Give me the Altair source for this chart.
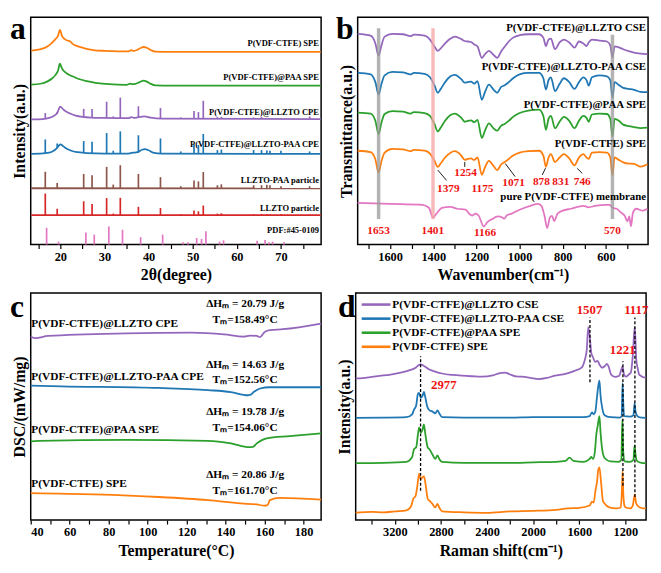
import altair as alt
import pandas as pd

FONT = "Liberation Serif"
PW, PH = 294, 230

ORANGE, GREEN, PURPLE, BLUE = "#ff7f0e", "#2ca02c", "#9467bd", "#1f77b4"
BROWN, RED, PINK = "#8c564b", "#d62728", "#e377c2"
LABRED = "#ee1111"

# ---------------- panel a : XRD ----------------
A_ORANGE_X = [13.4, 15.0, 16.6, 17.6, 18.8, 19.5, 19.9, 20.4, 21.0, 21.6, 22.2, 22.8, 24.0, 25.5, 27.5, 30.0, 33.0, 35.5, 36.1, 36.6, 37.5, 38.3, 38.9, 39.6, 40.5, 41.5, 45.0, 79.0]
A_ORANGE_Y = [200.5, 201.5, 203.7, 206.5, 212.0, 216.0, 222.0, 215.5, 212.5, 211.0, 210.3, 207.5, 205.0, 203.0, 201.2, 200.3, 199.8, 199.8, 201.0, 200.2, 201.5, 203.5, 204.3, 203.5, 201.2, 199.6, 199.3, 199.3]
A_GREEN_X = [13.4, 15.5, 17.0, 18.2, 19.0, 19.5, 19.9, 20.3, 20.8, 21.5, 22.5, 24.0, 26.0, 28.0, 31.0, 35.0, 35.8, 36.3, 37.0, 38.0, 38.9, 39.6, 40.5, 41.5, 45.0, 79.0]
A_GREEN_Y = [165.3, 166.3, 168.5, 172.0, 176.0, 180.0, 187.0, 183.0, 179.5, 177.0, 174.5, 171.5, 169.0, 167.3, 165.8, 165.2, 166.5, 166.0, 166.2, 168.0, 169.5, 168.5, 166.2, 164.6, 164.3, 164.3]
A_PURPLE_X = [13.4, 16.0, 17.5, 18.5, 19.3, 20.0, 20.6, 21.3, 22.2, 23.5, 25.0, 27.0, 30.0, 33.0, 35.5, 36.1, 36.7, 38.0, 39.0, 40.5, 43.0, 79.0]
A_PURPLE_Y = [129.5, 129.8, 131.0, 133.0, 136.0, 142.7, 140.0, 137.5, 135.5, 133.3, 132.0, 131.3, 131.0, 130.8, 130.7, 131.8, 131.0, 132.0, 132.5, 131.2, 130.3, 129.8]
A_BLUE_X = [13.4, 15.5, 17.5, 18.5, 19.3, 20.0, 20.7, 21.5, 22.5, 24.0, 26.0, 30.0, 35.0, 36.5, 37.5, 38.5, 39.2, 40.0, 41.0, 43.0, 79.0]
A_BLUE_Y = [93.8, 94.0, 95.0, 97.0, 100.0, 103.7, 101.5, 99.0, 97.0, 95.5, 94.5, 94.0, 94.0, 95.0, 95.5, 98.0, 98.7, 97.5, 95.0, 94.0, 93.7]
A_BROWN_X = [13.4, 79.0]
A_BROWN_Y = [58.2, 58.0]
A_RED_X = [13.4, 79.0]
A_RED_Y = [30.5, 30.3]

A_PEAKS = [16.6, 19.3, 25.3, 27.2, 30.5, 32.0, 33.6, 37.7, 42.7, 47.3, 50.3, 51.3, 52.4, 55.6, 56.5, 63.8, 65.6, 66.8, 67.5, 70.0, 76.5]
A_RED_TOP = [52.7, 37.0, 44.7, 42.0, 48.0, 32.0, 48.3, 39.0, 37.7, 31.3, 35.3, 34.3, 40.3, 32.0, 32.3, 31.3, 31.7, 31.3, 31.3, 31.3, 31.0]
A_RED_BASE = 30.4
A_BROWN_TOP = [75.3, 63.7, 73.0, 71.7, 80.3, 62.0, 82.0, 73.0, 69.7, 60.3, 66.3, 65.3, 75.0, 61.3, 62.3, 61.3, 61.3, 61.7, 61.3, 60.3, 60.3]
A_BROWN_BASE = 58.1
A_BLUE_TOP = [108.7, 104.5, 107.0, 106.3, 115.3, 97.0, 117.0, 113.0, 109.7, 96.3, 103.7, 103.0, 114.3, 97.7, 98.3, 97.7, 97.7, 97.3, 97.0, 97.0, 96.3]
A_BLUE_BASE = [94.6, 100.0, 94.8, 94.4, 94.0, 94.0, 94.0, 95.5, 93.9, 93.8, 93.8, 93.8, 93.8, 93.8, 93.8, 93.8, 93.8, 93.8, 93.8, 93.8, 93.7]
A_PURPLE_TOP = [136.0, 137.0, 140.3, 140.3, 147.7, 132.5, 152.0, 143.0, 141.3, 131.5, 138.0, 137.0, 148.7, 131.8, 132.0, 131.5, 132.0, 131.0, 130.8, 130.8, 132.5]
A_PURPLE_BASE = [129.8, 135.0, 132.0, 131.3, 131.0, 130.9, 130.8, 132.0, 130.3, 130.0, 130.0, 130.0, 130.0, 130.0, 130.0, 130.0, 130.0, 130.0, 130.0, 130.0, 129.9]
A_PDF_POS = [16.9, 19.6, 25.8, 27.7, 31.0, 34.1, 38.2, 43.2, 47.8, 48.9, 50.9, 52.0, 53.0, 56.1, 57.0, 64.6, 66.4, 67.3, 68.1, 70.7]
A_PDF_H = [17.3, 3.0, 12.3, 10.3, 18.7, 15.3, 7.7, 10.3, 2.3, 2.3, 6.7, 5.7, 13.7, 3.0, 4.3, 4.0, 4.7, 2.3, 3.0, 2.3]
A_LABELS = ["P(VDF-CTFE) SPE", "P(VDF-CTFE)@PAA SPE", "P(VDF-CTFE)@LLZTO CPE",
            "P(VDF-CTFE)@LLZTO-PAA CPE", "LLZTO-PAA particle", "LLZTO particle", "PDF:#45-0109"]
A_LABEL_Y = [208, 173.3, 137, 104, 67, 37.7, 15.3]

# ---------------- panel b : FTIR ----------------
B_W = [1750, 1690, 1668, 1653, 1640, 1625, 1590, 1540, 1505, 1490, 1440, 1415, 1395, 1379, 1365, 1345, 1320, 1300, 1270, 1254,
       1240, 1225, 1210, 1195, 1175, 1160, 1142, 1120, 1104, 1085, 1071, 1050, 1030, 1000, 960, 910, 890, 878, 866, 855,
       836, 815, 795, 770, 746, 725, 705, 690, 680, 665, 630, 595, 580, 570, 560, 540, 520, 495, 470, 440, 408]
B_ORANGE = [97, 95.5, 88, 74.3, 86, 95, 99, 98.5, 96.5, 98, 97, 94, 87, 80.3, 84, 90, 95, 96.5, 92, 87.5,
            88.5, 89, 87.5, 90, 72, 80, 86.5, 81, 77, 83, 85, 88.5, 92, 95, 96.5, 97, 92, 80.3, 90, 93.5,
            85.3, 90, 93.5, 89, 82, 90, 93.5, 90, 88.5, 95, 95.5, 95, 90, 72, 90, 87.5, 85, 83.7, 83.5, 80.5, 83]
B_GREEN = [136.5, 135.5, 128, 114.3, 126, 135, 138, 137.5, 135.5, 137, 136, 133, 125, 117, 121, 128, 134, 135.5, 131, 127,
           128, 128.5, 126.5, 129, 110.3, 118, 125.3, 120, 117.7, 123, 124.5, 128, 132, 136, 138.5, 139.5, 133, 118.7, 130, 133,
           120.3, 127, 132, 128, 120.3, 128, 133, 131, 127, 134.5, 135.5, 135, 130, 112, 130, 128, 124, 122.5, 121.5, 120.5, 121]
B_BLUE = [177.5, 176, 168, 155.3, 166, 175, 178.5, 178, 176, 177.5, 176.5, 173, 165, 157, 161, 168, 174, 175.5, 171, 167.5,
          168, 168.5, 166.5, 169, 149.7, 158, 165.3, 160, 157, 163, 164.5, 168, 172, 176, 177.5, 177.5, 172, 160.3, 170, 173,
          158.7, 166, 172, 168, 161, 168, 173, 170, 164.3, 173, 175, 174, 170, 152, 168, 165, 162, 161, 160, 158, 157.7]
B_PURPLE = [218, 216, 208, 195.3, 206, 215, 218, 217.5, 215.5, 217, 216, 212, 205, 200.3, 203, 208, 213, 215, 212.5, 210.5,
            210, 209.5, 207, 205, 193, 197, 200.3, 196, 193, 200, 204, 210, 214, 216.5, 217.5, 217.5, 214, 205.3, 212, 213,
            202, 209, 212, 209, 203.7, 210, 208, 205.3, 209, 212, 211, 210, 206, 193.7, 205, 204, 202, 200, 198.5, 197.5, 197]
B_PINK_W = [1750, 1600, 1450, 1420, 1401, 1385, 1360, 1320, 1290, 1250, 1234, 1220, 1205, 1190, 1166, 1150, 1130, 1100, 1080, 1071,
            1060, 1036, 1000, 950, 915, 899, 885, 872, 860, 850, 840, 824, 800, 763, 703, 680, 650, 600, 582, 570,
            550, 530, 514, 500, 492, 484, 475, 460, 430, 408]
B_PINK = [43, 42, 41, 38, 27.7, 32, 38, 39, 37, 36, 32, 30, 32, 30, 18.7, 23, 26, 29, 28, 26.7,
          30, 32, 36, 40, 42, 40, 30, 17, 28, 29.7, 24.3, 32, 35, 37, 40, 38.5, 40, 41, 41, 38,
          37, 33, 30, 24, 29, 19, 33, 37, 35, 37]
B_LABELS = ["P(VDF-CTFE)@LLZTO CSE", "P(VDF-CTFE)@LLZTO-PAA CSE", "P(VDF-CTFE)@PAA SPE",
            "P(VDF-CTFE) SPE", "pure P(VDF-CTFE) membrane"]
B_LABEL_Y = [223.7, 183.7, 144.3, 103.7, 48.7]
B_BANDS = [1653, 1401, 570]
B_BAND_TOP = [223.7, 223.7, 217.0]
B_BAND_BOT = [26.3, 26.3, 26.3]
B_PEAK_TXT = ["1653", "1401", "1166", "570", "1379", "1175", "1254", "1071", "878", "831", "746"]
B_PEAK_TXT_W = [1653, 1402, 1160, 570, 1330, 1172, 1250, 1028, 899, 809, 710]
B_PEAK_TXT_V = [14.3, 14.3, 12.0, 14.3, 57.0, 57.0, 73.7, 63.7, 64.3, 64.3, 64.3]
B_PTR_W1 = [1379, 1254, 1066, 880, 733]
B_PTR_W2 = [1338, 1254, 1021, 895, 710]
B_PTR_V1 = [77.0, 85.3, 83.7, 79.0, 78.7]
B_PTR_V2 = [66.3, 80.3, 70.3, 72.0, 73.7]

# ---------------- panel c : DSC ----------------
C_PURPLE_T = [40, 42.2, 48.9, 89, 122.5, 139.2, 149.3, 152.6, 156, 157.6, 160.2, 162.7, 169.4, 189]
C_PURPLE_V = [190.7, 189, 191.3, 194, 194.7, 193, 190.7, 191.7, 191.3, 190, 195.7, 197.3, 198.3, 204.2]
C_BLUE_T = [40, 55.7, 105.9, 131, 142.7, 151.4, 152.6, 154.4, 157.7, 162.7, 189]
C_BLUE_V = [139.7, 139, 137.3, 135, 133, 129.7, 130, 133, 136.7, 138, 138]
C_GREEN_T = [40, 44, 89, 131, 142.7, 152.1, 154, 156, 161, 172.8, 189]
C_GREEN_V = [81.7, 82.3, 83.3, 82.3, 79.7, 75.7, 76.0, 79.7, 85, 87.3, 90.1]
C_ORANGE_T = [40, 72.4, 105.9, 131, 147.7, 156, 159.7, 161.5, 162.7, 167.7, 189]
C_ORANGE_V = [28, 26.7, 24, 20.7, 17.3, 16.3, 15, 15.5, 20.7, 23, 21.2]
C_LABELS = ["P(VDF-CTFE)@LLZTO CPE", "P(VDF-CTFE)@LLZTO-PAA CPE", "P(VDF-CTFE)@PAA SPE", "P(VDF-CTFE) SPE"]
C_LABEL_Y = [204, 148.3, 93.3, 37.3]
C_DH = ["ΔHₘ = 20.79 J/g", "ΔHₘ = 14.63 J/g", "ΔHₘ = 19.78 J/g", "ΔHₘ = 20.86 J/g"]
C_TM = ["Tₘ=158.49°C", "Tₘ=152.56°C", "Tₘ=154.06°C", "Tₘ=161.70°C"]
C_DH_Y = [224, 160.7, 112.3, 47.3]
C_TM_Y = [208.3, 145, 95.7, 30.7]

# ---------------- panel d : Raman ----------------
D_PURPLE_W = [3540, 3480, 3400, 3300, 3249, 3150, 3077, 3020, 2995, 2977, 2950, 2905, 2850, 2790, 2700, 2618, 2500, 2445, 2350, 2290,
              2244, 2200, 2150, 2100, 2000, 1956, 1880, 1813, 1720, 1641, 1580, 1555, 1535, 1522, 1510, 1495, 1482, 1460, 1440, 1425,
              1400, 1375, 1360, 1345, 1324, 1290, 1253, 1235, 1224, 1212, 1195, 1170, 1152, 1135, 1119, 1112, 1105, 1094, 1080, 1066,
              1040, 1022]
D_PURPLE_V = [146, 146.3, 147.5, 149, 149.7, 152, 154.3, 157, 159.5, 160.3, 159, 155.3, 153, 151, 149.5, 148.7, 148, 147.7, 149, 151.5,
              152, 150, 148, 147.7, 146, 145.3, 146.5, 148.7, 150.5, 153.7, 157, 163.7, 175, 198.7, 190, 172, 168, 163, 164, 160.3,
              157, 159, 161, 158, 150, 147.5, 148.7, 155, 158, 150, 147.7, 150, 152, 170, 198.7, 185, 165, 157, 150, 148.7,
              147, 147]
D_BLUE_W = [3540, 3300, 3100, 3050, 3034, 3015, 3000, 2990, 2975, 2960, 2948, 2935, 2919, 2900, 2876, 2850, 2830, 2815, 2790, 2600,
            2200, 2000, 1800, 1650, 1560, 1510, 1490, 1475, 1460, 1445, 1435, 1425, 1415, 1400, 1380, 1330, 1250, 1232, 1224, 1218,
            1210, 1160, 1130, 1120, 1112, 1095, 1060, 1022]
D_BLUE_V = [105.3, 105.5, 106, 109, 113.7, 118, 130, 131, 126, 128, 132, 126, 117, 113, 112, 110, 113, 110, 106, 105.5,
            105.5, 106, 106, 106, 106, 107, 111, 109, 112, 128, 138, 143.7, 128, 115, 108, 106, 105.5, 107, 141, 120,
            107, 106.5, 108, 120.3, 112, 107, 105.5, 105.3]
D_GREEN_W = [3540, 3300, 3100, 3050, 3034, 3015, 3000, 2990, 2975, 2960, 2948, 2935, 2915, 2900, 2876, 2850, 2830, 2815, 2790, 2600,
             2200, 2000, 1800, 1720, 1684, 1650, 1560, 1510, 1497, 1480, 1465, 1450, 1440, 1425, 1415, 1400, 1380, 1330, 1260, 1235,
             1226, 1218, 1205, 1160, 1130, 1120, 1110, 1095, 1060, 1022]
D_GREEN_V = [58.7, 59, 60, 65, 73, 75, 88, 95.3, 90, 93, 98.7, 88, 75, 73, 68, 63, 66.7, 63, 60, 59,
             59, 59.5, 60, 61, 64.3, 61, 60, 63, 65, 63, 70, 90, 97, 107, 90, 72, 64, 60.5, 60, 62,
             103.7, 70, 60.5, 60, 62, 77, 66, 60.5, 59, 58.7]
D_ORANGE_W = [3540, 3400, 3300, 3200, 3100, 3060, 3040, 3020, 3005, 2990, 2975, 2960, 2948, 2935, 2915, 2900, 2876, 2850, 2830, 2815,
              2790, 2600, 2400, 2200, 2000, 1800, 1700, 1600, 1510, 1490, 1475, 1460, 1445, 1435, 1425, 1410, 1395, 1380, 1340, 1280,
              1240, 1230, 1224, 1217, 1205, 1190, 1160, 1135, 1125, 1117, 1108, 1095, 1070, 1040, 1022]
D_ORANGE_V = [7.7, 8.5, 8, 9, 10, 14, 22, 25, 35, 47.7, 42, 44.3, 45, 38, 22, 20, 17, 13, 16.7, 13,
              9, 8, 7.5, 9, 9.5, 10.5, 12, 12.5, 15, 19, 18, 30, 40, 52, 54.3, 38, 20, 17, 13, 12,
              13, 30, 50.3, 25, 14, 12.7, 12, 15, 23, 26.3, 18, 15, 13, 12, 12]
D_NAMES = ["P(VDF-CTFE)@LLZTO CSE", "P(VDF-CTFE)@LLZTO-PAA CSE", "P(VDF-CTFE)@PAA SPE", "P(VDF-CTFE) SPE"]
D_MARK_W = [2977, 1507, 1221, 1117]
D_MARK_TOP = [168.7, 208.7, 163.7, 208.7]
D_MARK_BOT = [30.3, 142.0, 35.3, 23.7]
D_TXT = ["2977", "1507", "1221", "1117"]
D_TXT_W = [2775, 1511, 1223, 1105]
D_TXT_V = [138.7, 216.3, 175.3, 216.3]


def series_df(items):
    rows = []
    for name, xs, ys in items:
        for x, y in zip(xs, ys):
            rows.append({"s": name, "x": x, "y": y})
    return pd.DataFrame(rows)


def make_panel(letter, xscale, yscale, xaxis, ytitle, names, colors, line_items, extra_layers_fn, lx, ly):
    X = alt.X("x:Q", scale=xscale, axis=xaxis)
    Y = alt.Y("y:Q", scale=yscale,
              axis=alt.Axis(title=ytitle, labels=False, ticks=False, titlePadding=3))
    C = alt.Color("s:N", scale=alt.Scale(domain=names, range=colors), legend=None)
    lines = alt.Chart(series_df(line_items)).mark_line(strokeWidth=1.8, interpolate="monotone").encode(x=X, y=Y, color=C)
    layers = [lines] + extra_layers_fn(X, Y, C)
    lab = alt.Chart(pd.DataFrame({"t": [letter]})).mark_text(
        font=FONT, fontWeight="bold", fontSize=32, align="left", baseline="alphabetic", color="black"
    ).encode(x=alt.value(lx), y=alt.value(ly), text="t:N")
    layers.append(lab)
    return alt.layer(*layers).properties(width=PW, height=PH)


def text_layer(df, X, Y, size, color="black", align="left"):
    return alt.Chart(df).mark_text(font=FONT, fontWeight="bold", fontSize=size, color=color,
                                   align=align, baseline="middle").encode(x=X, y=Y, text="t:N")


# ---- panel a
a_names = ["o", "g", "p", "b", "br", "r", "pdf"]
a_cols = [ORANGE, GREEN, PURPLE, BLUE, BROWN, RED, PINK]


def a_extra(X, Y, C):
    rows = []
    for name, tops, bases in [("r", A_RED_TOP, [A_RED_BASE] * len(A_PEAKS)),
                              ("br", A_BROWN_TOP, [A_BROWN_BASE] * len(A_PEAKS)),
                              ("b", A_BLUE_TOP, A_BLUE_BASE),
                              ("p", A_PURPLE_TOP, A_PURPLE_BASE)]:
        for x, t, b in zip(A_PEAKS, tops, bases):
            rows.append({"s": name, "x": x, "y": b, "y2": t})
    for x, h in zip(A_PDF_POS, A_PDF_H):
        rows.append({"s": "pdf", "x": x, "y": 0.0, "y2": h})
    peaks = alt.Chart(pd.DataFrame(rows)).mark_rule(strokeWidth=1.7).encode(x=X, y=Y, y2="y2:Q", color=C)
    tdf = pd.DataFrame({"t": A_LABELS, "x": [78.6] * len(A_LABELS), "y": A_LABEL_Y})
    return [peaks, text_layer(tdf, X, Y, 8.6, align="right")]


panel_a = make_panel(
    "a",
    alt.Scale(domain=[13.3, 79.1], nice=False, zero=False),
    alt.Scale(domain=[0, 235], nice=False, zero=False),
    alt.Axis(title="2θ(degree)", values=list(range(15, 80, 5)), format="d",
             labelExpr="datum.value % 10 == 0 ? datum.label : ''", tickSize=4, labelPadding=2, titlePadding=4),
    "Intensity(a.u.)", a_names, a_cols,
    [("o", A_ORANGE_X, A_ORANGE_Y), ("g", A_GREEN_X, A_GREEN_Y), ("p", A_PURPLE_X, A_PURPLE_Y),
     ("b", A_BLUE_X, A_BLUE_Y), ("br", A_BROWN_X, A_BROWN_Y), ("r", A_RED_X, A_RED_Y)],
    a_extra, -21, 22)

# ---- panel b
b_names = ["o", "g", "b", "p", "pk"]
b_cols = [ORANGE, GREEN, BLUE, PURPLE, PINK]


def b_extra(X, Y, C):
    bands = pd.DataFrame({"x": B_BANDS, "y": B_BAND_BOT, "y2": B_BAND_TOP, "c": ["#9a9a9a", "#f4a3a3", "#9a9a9a"]})
    band = alt.Chart(bands).mark_rule(strokeWidth=3.5, opacity=0.75).encode(
        x=X, y=Y, y2="y2:Q", color=alt.Color("c:N", scale=None))
    ptr = pd.DataFrame({"x": B_PTR_W1, "x2": B_PTR_W2, "y": B_PTR_V1, "y2": B_PTR_V2})
    ptrs = alt.Chart(ptr).mark_rule(strokeWidth=0.9, color="black").encode(x=X, x2="x2:Q", y=Y, y2="y2:Q")
    tdf = pd.DataFrame({"t": B_LABELS, "x": [414] * len(B_LABELS), "y": B_LABEL_Y})
    pdf = pd.DataFrame({"t": B_PEAK_TXT, "x": B_PEAK_TXT_W, "y": B_PEAK_TXT_V})
    return [band, ptrs, text_layer(tdf, X, Y, 11, align="right"),
            text_layer(pdf, X, Y, 11.5, color=LABRED, align="center")]


panel_b = make_panel(
    "b",
    alt.Scale(domain=[405, 1750], reverse=True, nice=False, zero=False),
    alt.Scale(domain=[0, 235], nice=False, zero=False),
    alt.Axis(title="Wavenumber(cm⁻¹)", values=list(range(500, 1800, 100)), format="d",
             labelExpr="datum.value % 200 == 0 ? datum.label : ''", tickSize=4, labelPadding=2, titlePadding=4),
    "Transmittance(a.u.)", b_names, b_cols,
    [("o", B_W, B_ORANGE), ("g", B_W, B_GREEN), ("b", B_W, B_BLUE), ("p", B_W, B_PURPLE), ("pk", B_PINK_W, B_PINK)],
    b_extra, -22, 22)

# ---- panel c
c_names = ["p", "b", "g", "o"]
c_cols = [PURPLE, BLUE, GREEN, ORANGE]


def c_extra(X, Y, C):
    ldf = pd.DataFrame({"t": C_LABELS, "x": [40.3] * 4, "y": C_LABEL_Y})
    dh = pd.DataFrame({"t": C_DH + C_TM, "x": [150.0] * 8, "y": C_DH_Y + C_TM_Y})
    return [text_layer(ldf, X, Y, 11.5), text_layer(dh, X, Y, 11.5, align="center")]


panel_c = make_panel(
    "c",
    alt.Scale(domain=[40, 189], nice=False, zero=False),
    alt.Scale(domain=[0, 236], nice=False, zero=False),
    alt.Axis(title="Temperature(°C)", values=list(range(40, 190, 10)), format="d",
             labelExpr="datum.value % 20 == 0 ? datum.label : ''", tickSize=4, labelPadding=2, titlePadding=4),
    "DSC/(mW/mg)", c_names, c_cols,
    [("p", C_PURPLE_T, C_PURPLE_V), ("b", C_BLUE_T, C_BLUE_V), ("g", C_GREEN_T, C_GREEN_V), ("o", C_ORANGE_T, C_ORANGE_V)],
    c_extra, -21, 24)

# ---- panel d
d_cols = [PURPLE, BLUE, GREEN, ORANGE]


def d_extra(X, Y, C):
    mk = pd.DataFrame({"x": D_MARK_W, "y": D_MARK_BOT, "y2": D_MARK_TOP})
    marks = alt.Chart(mk).mark_rule(strokeWidth=1.3, color="black", strokeDash=[3, 2]).encode(x=X, y=Y, y2="y2:Q")
    tdf = pd.DataFrame({"t": D_TXT, "x": D_TXT_W, "y": D_TXT_V})
    rows_v = [222 - 14.5 * i for i in range(4)]
    leg = pd.DataFrame({"s": D_NAMES, "x": [3488] * 4, "x2": [3238] * 4, "y": rows_v})
    legl = alt.Chart(leg).mark_rule(strokeWidth=2.6).encode(x=X, x2="x2:Q", y=Y, color=C)
    legt = pd.DataFrame({"t": D_NAMES, "x": [3222] * 4, "y": rows_v})
    return [marks, text_layer(tdf, X, Y, 13, color=LABRED, align="center"), legl, text_layer(legt, X, Y, 11.5)]


panel_d = make_panel(
    "d",
    alt.Scale(domain=[1020, 3540], reverse=True, nice=False, zero=False),
    alt.Scale(domain=[0, 234], nice=False, zero=False),
    alt.Axis(title="Raman shift(cm⁻¹)", values=list(range(1200, 3600, 200)), format="d",
             labelExpr="datum.value % 400 == 0 ? datum.label : ''", tickSize=4, labelPadding=2, titlePadding=4),
    "Intensity(a.u.)", D_NAMES, d_cols,
    [(D_NAMES[0], D_PURPLE_W, D_PURPLE_V), (D_NAMES[1], D_BLUE_W, D_BLUE_V),
     (D_NAMES[2], D_GREEN_W, D_GREEN_V), (D_NAMES[3], D_ORANGE_W, D_ORANGE_V)],
    d_extra, -18, 24)

top = alt.hconcat(panel_a, panel_b, spacing=10).resolve_scale(color="independent")
bottom = alt.hconcat(panel_c, panel_d, spacing=10).resolve_scale(color="independent")
chart = alt.vconcat(top, bottom, spacing=6).resolve_scale(color="independent").properties(
    padding={"left": 1, "top": 1, "right": 1, "bottom": 1}
).configure_view(stroke="black", strokeWidth=1.5).configure_axis(
    labelFont=FONT, labelFontSize=12.5, labelFontWeight="bold", labelColor="black",
    titleFont=FONT, titleFontSize=16, titleFontWeight="bold", titleColor="black",
    tickColor="black", tickWidth=1.2, grid=False, domain=False
)

chart.save("out.html", embed_options={"renderer": "svg", "actions": False})
